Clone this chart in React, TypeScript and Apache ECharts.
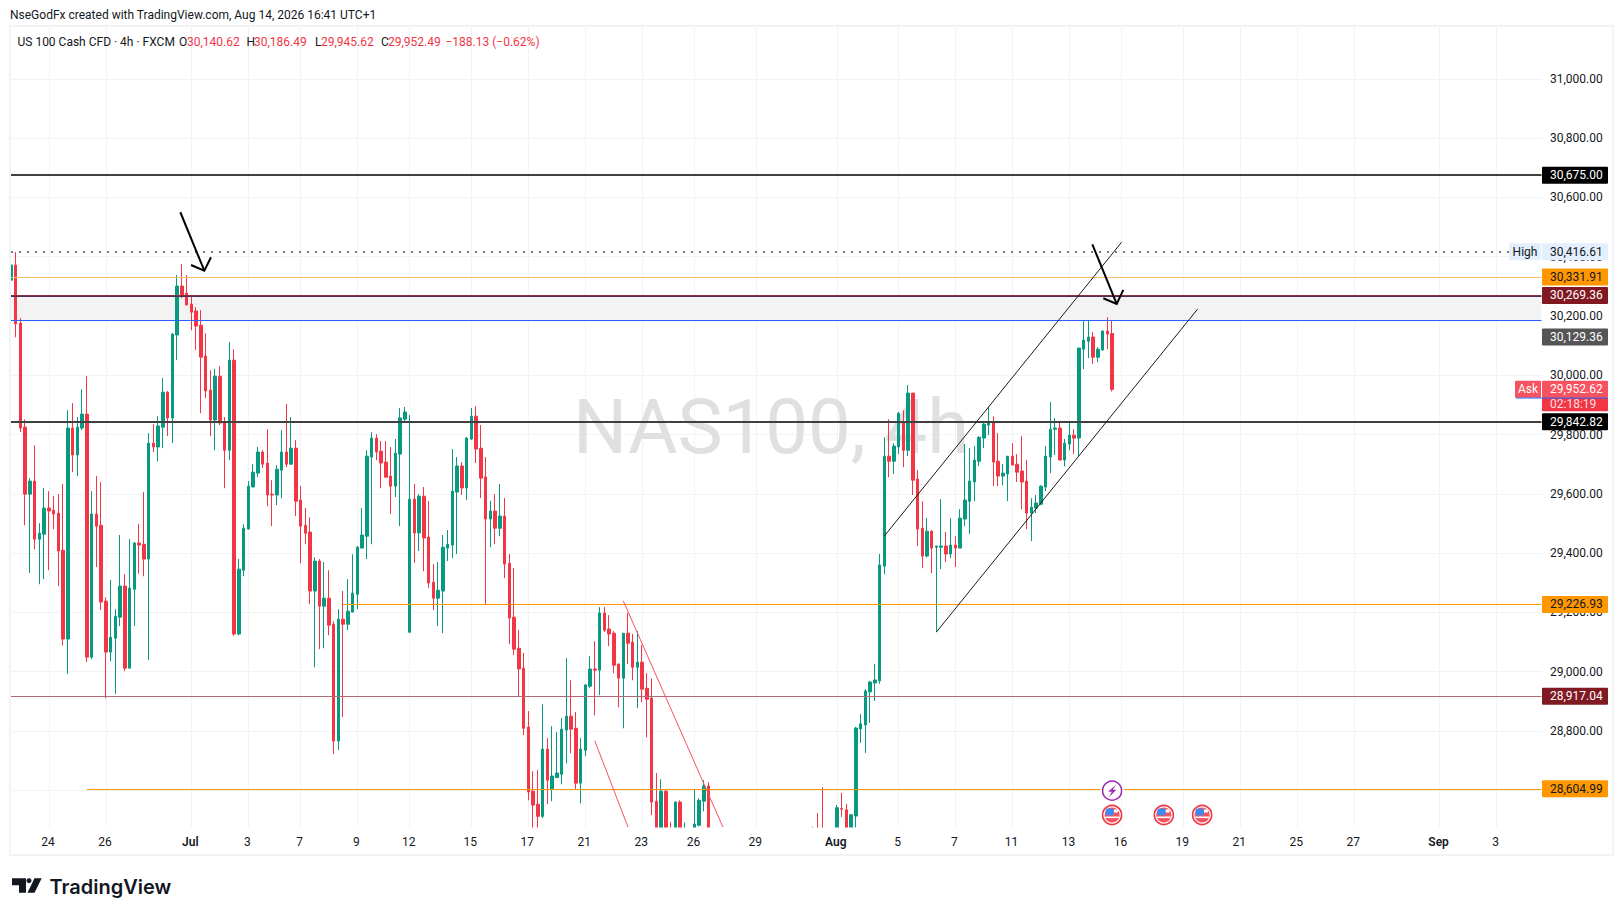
import React, { useEffect, useRef } from "react";
import * as echarts from "echarts";

type Candle = [number, number, number, number] | null; // open, close, low, high

const candlesJune: Candle[] = [
  [30321,30372,30245,30387],[30372,30173,30128,30416],[30176,29822,29809,30193],[29825,29599,29494,29851],
  [29599,29643,29333,29653],[29643,29447,29413,29764],[29447,29467,29295,29501],[29464,29552,29312,29619],
  [29552,29542,29342,29609],[29545,29532,29481,29592],[29535,29407,29289,29599],[29410,29110,29089,29633],
  [29110,29822,28992,29882],[29822,29731,29673,29906],[29731,29825,29660,29859],[29822,29869,29815,29953],
  [29869,29049,29032,29997],[29049,29532,29042,29609],[29532,29491,29353,29660],[29494,29235,29208,29640],
  [29238,29066,28910,29251],[29066,29116,29035,29309],[29113,29187,28925,29211],[29184,29289,29154,29461],
  [29289,29012,29002,29329],[29012,29282,29012,29447],[29278,29434,29154,29437],[29434,29427,29331,29498],
  [29430,29380,29322,29606],[29380,29771,29039,29805],[29771,29758,29741,29835],[29758,29829,29710,29862],
  [29825,29943,29754,29991],[29943,29856,29795,29947],[29856,30139,29771,30142],[30136,30301,30051,30338],
  [30301,30271,30260,30375],[30277,30237,30237,30338],
];

const candlesJuly: Candle[] = [
  [30240,30213,30152,30264],[30217,30166,30085,30230],[30169,30061,29872,30220],[30065,29947,29923,30142],
  [29950,29849,29795,30017],[29849,29997,29747,30021],[29997,29839,29832,30031],[29842,29747,29619,29859],
  [29747,30051,29714,30112],[30051,29127,29120,30088],[29127,29346,29123,29380],[29342,29484,29322,29498],
  [29481,29626,29481,29643],[29623,29673,29623,29700],[29670,29741,29656,29758],[29741,29700,29687,29747],
  [29704,29596,29558,29818],[29599,29596,29491,29646],[29596,29683,29562,29697],[29680,29741,29585,29815],
  [29741,29700,29690,29903],[29700,29754,29700,29859],[29754,29575,29525,29781],[29579,29491,29366,29626],
  [29494,29467,29430,29552],[29471,29272,29228,29521],[29272,29373,29015,29386],[29373,29221,29076,29380],
  [29221,29248,29079,29370],[29248,29157,29123,29342],[29160,28766,28722,29170],[28766,29177,28736,29211],
  [29177,29160,28847,29272],[29160,29204,29140,29312],[29201,29265,29201,29396],[29261,29420,29211,29424],
  [29417,29461,29417,29552],[29457,29727,29380,29747],[29724,29788,29430,29808],[29788,29741,29714,29801],
  [29744,29704,29619,29778],[29707,29656,29656,29778],[29660,29626,29532,29758],[29626,29737,29589,29785],
  [29734,29856,29491,29889],[29852,29876,29839,29893],[29133,29582,29133,29866],
  [29582,29468,29367,29633],[29468,29592,29407,29599],[29592,29451,29339,29623],[29454,29299,29283,29576],
  [29302,29248,29208,29363],[29248,29275,29154,29370],[29272,29420,29130,29461],[29417,29430,29373,29478],
  [29427,29609,29383,29751],[29606,29694,29397,29724],[29694,29620,29596,29707],[29620,29788,29579,29792],
  [29785,29862,29781,29890],[29862,29751,29704,29896],[29754,29653,29586,29832],[29657,29515,29228,29724],
  [29515,29542,29420,29576],[29542,29484,29430,29599],[29484,29525,29457,29633],[29525,29363,29316,29586],
  [29366,29181,29093,29397],[29184,29076,29056,29350],[29079,29009,28914,29140],[29012,28809,28786,29063],
  [28813,28594,28566,28867],[28597,28550,28470,28664],[28553,28512,28470,28668],[28512,28739,28506,28890],
  [28739,28634,28553,28776],[28604,28648,28563,28816],[28643,28658,28641,28796],[28654,28806,28620,28843],
  [28803,28850,28691,29046],[28850,28806,28725,28971],[28809,28624,28604,28864],[28624,28739,28556,28776],
  [28735,28955,28715,28958],[28951,29009,28944,29052],[29009,29005,28853,29103],[29005,29198,28921,29218],
  [29198,29140,29134,29218],[29144,29127,29086,29191],[29130,29022,28995,29137],[29026,28978,28880,29026],
  [28978,29130,28809,29130],[29130,29096,29026,29198],[29100,29015,28971,29127],[29015,29032,28877,29137],
  [29032,28941,28897,29090],[28944,28907,28779,28995],[28911,28560,28516,28978],[28563,28420,28390,28658],
  [28420,28597,28400,28637],[28597,28420,28400,28600],[28450,28410,28390,28492],[28400,28560,28380,28563],
  [28560,28400,28380,28566],[28400,28450,28380,28492],null,[28400,28486,28380,28604],
  [28482,28566,28478,28573],[28563,28614,28529,28634],[28614,28420,28400,28627],
  null,null,null,null,null,null,null,null,null,null,null,null,null,null,null,null,null,null,null,null,null,
  [28380,28410,28370,28477],[28420,28380,28360,28523],[28430,28390,28370,28611],null,null,
];

const candlesAug: Candle[] = [
  [28400,28541,28380,28550],[28538,28536,28510,28591],[28534,28400,28380,28554],[28400,28517,28380,28520],
  [28513,28810,28470,28814],[28807,28824,28760,28857],[28820,28935,28726,28942],[28932,28965,28827,28969],
  [28962,28972,28901,29026],[28969,29360,28959,29397],[29356,29727,29329,29791],[29727,29710,29656,29852],
  [29710,29761,29667,29771],[29758,29872,29734,29876],[29842,29747,29690,29882],[29747,29940,29727,29967],
  [29940,29646,29596,29940],[29650,29481,29424,29680],[29484,29390,29349,29575],[29390,29474,29386,29518],
  [29474,29417,29332,29477],[29420,29424,29133,29424],[29420,29424,29346,29582],[29424,29397,29370,29471],
  [29397,29427,29383,29518],[29427,29417,29353,29457],[29417,29518,29417,29548],[29515,29579,29491,29768],
  [29575,29643,29464,29754],[29640,29714,29575,29761],[29710,29791,29693,29795],[29788,29835,29754,29842],
  [29832,29842,29798,29893],[29842,29707,29626,29862],[29710,29660,29626,29805],[29660,29670,29629,29700],
  [29667,29727,29575,29727],[29727,29697,29697,29771],[29700,29673,29640,29734],[29677,29640,29548,29795],
  [29643,29535,29481,29714],[29535,29555,29440,29585],[29552,29569,29535,29596],[29565,29626,29562,29629],
  [29623,29727,29609,29761],[29724,29818,29670,29910],[29818,29822,29731,29856],[29822,29714,29714,29845],
  [29714,29771,29693,29785],[29768,29798,29747,29839],[29798,29788,29734,29818],[29788,30092,29727,30092],
  [30088,30119,30021,30186],[30115,30129,30058,30186],[30129,30061,30038,30146],[30061,30088,30044,30095],
  [30085,30149,30085,30152],[30149,30139,30088,30196],[30140.62,29952.49,29945.62,30186.49],
];

const BAR_SLOTS = 324;
const timeTickIndex = [8,20,38,50,61,73,84,97,109,121,133,144,157,174,187,199,211,223,234,247,259,271,283,301,313];
const timeTickLabels = ["24","26","Jul","3","7","9","12","15","17","21","23","26","29","Aug","5","7","11","13","16","19","21","25","27","Sep","3"];
const monthLabels = ["Jul","Aug","Sep"];
const priceTicks = [28600,28800,29000,29200,29400,29600,29800,30000,30200,30400,30600,30800,31000];

const levelBlack = [30675, 29842.82];
const levelHigh = 30416.61;
const levelLightOrange = 30331.91;
const zoneTop = 30269.36;
const zoneBottom = 30186.49;
const levelOrangeA = 29226.93;
const levelOrangeAStart = 70;
const levelOrangeB = 28604.99;
const levelOrangeBStart = 16;
const levelMaroon = 28917.04;

// trend lines: [index, price, index, price]
const channelLines = [[184,29457.5,234,30449],[195,29134,250,30223]];
const fallingLines = [[129,29239,150,28476],[123,28767,130,28476]];
// arrows: shaft start, tip, head ends (index, price)
const arrows = [
  [[35.68,30550],[40.73,30353],[37.93,30372],[42.14,30398]],
  [[227.83,30442],[232.97,30240.6],[230.15,30260],[234.36,30288]],
];

const priceTags: [string, number, string, string][] = [
  ["30,675.00",30675,"#000000","#ffffff"],
  ["30,416.61",30416.61,"#e3effd","#131722"],
  ["30,331.91",30331.91,"#ff9800","#131722"],
  ["30,269.36",30269.36,"#801922","#ffffff"],
  ["30,129.36",30129.36,"#555555","#ffffff"],
  ["29,842.82",29842.82,"#000000","#ffffff"],
  ["29,226.93",29226.93,"#ff9800","#131722"],
  ["28,917.04",28917.04,"#801922","#ffffff"],
  ["28,604.99",28604.99,"#ff9800","#131722"],
];
const askPrice = 29952.62;
const askText = "29,952.62";
const countdown = "02:18:19";

const headerLine = "NseGodFx created with TradingView.com, Aug 14, 2026 16:41 UTC+1";
const legendParts: [string, number, string][] = [
  ["US 100 Cash CFD · 4h · FXCM",17.5,"#131722"],
  ["O",179,"#131722"],["30,140.62",187,"#f23645"],
  ["H",246.5,"#131722"],["30,186.49",254,"#f23645"],
  ["L",315,"#131722"],["29,945.62",321,"#f23645"],
  ["C",381,"#131722"],["29,952.49",388,"#f23645"],
  ["−188.13 (−0.62%)",445.5,"#f23645"],
];
const flagEventIndex = [232, 242.9, 250.97];
const boltEventIndex = 232;

const FONT = "Roboto, sans-serif";
const GRID_COLOR = "#f2f3f5";

function hline(y: number, color: string, width = 1, start = 0, type: any = "solid") {
  return [
    { coord: [start, y], lineStyle: { color, width, type, opacity: 1 } },
    { coord: [BAR_SLOTS - 1, y] },
  ];
}
function seg(l: number[], color: string, width = 1) {
  return [
    { coord: [l[0], l[1]], lineStyle: { color, width, type: "solid", opacity: 1 } },
    { coord: [l[2], l[3]] },
  ];
}

export default function App() {
  const ref = useRef<HTMLDivElement>(null);
  useEffect(() => {
    if (!ref.current) return;
    const chart = echarts.init(ref.current, undefined, { renderer: "svg" });
    const all = [...candlesJune, ...candlesJuly, ...candlesAug];
    const data: any[] = [];
    for (let i = 0; i < BAR_SLOTS; i++) {
      const c = all[i];
      data.push(c ? c : ["-", "-", "-", "-"]);
    }
    const categories = data.map((_, i) => String(i));
    const tickSet = new Set(timeTickIndex);
    chart.setOption({
      animation: false,
      backgroundColor: "#ffffff",
      grid: { left: 11, top: 27, width: 1533, height: 800, containLabel: false },
      xAxis: [
        {
          type: "category",
          data: categories,
          boundaryGap: false,
          axisLine: { show: false },
          axisTick: { show: false },
          axisLabel: { show: false },
          splitLine: {
            show: true,
            interval: (i: number) => tickSet.has(i),
            lineStyle: { color: GRID_COLOR, width: 1 },
          },
        },
        {
          type: "category",
          data: categories,
          position: "bottom",
          boundaryGap: false,
          z: 60,
          axisLine: { show: false },
          axisTick: { show: false },
          splitLine: { show: false },
          axisLabel: {
            interval: (i: number) => tickSet.has(i),
            margin: 9,
            padding: [0, 2, 0, 0],
            fontFamily: FONT,
            fontSize: 12,
            color: "#131722",
            hideOverlap: false,
            formatter: (v: string) => {
              const k = timeTickIndex.indexOf(Number(v));
              if (k < 0) return "";
              const t = timeTickLabels[k];
              return monthLabels.includes(t) ? `{m|${t}}` : t;
            },
            rich: { m: { fontWeight: 600, fontFamily: FONT, fontSize: 12, color: "#131722" } },
          },
        },
      ],
      yAxis: {
        type: "value",
        position: "right",
        min: 28476,
        max: 31175,
        axisLine: { show: false },
        axisTick: { show: false, customValues: priceTicks },
        axisLabel: {
          customValues: priceTicks,
          margin: 6,
          fontFamily: FONT,
          fontSize: 12,
          color: "#131722",
          formatter: (v: number) => v.toLocaleString("en-US", { minimumFractionDigits: 2, maximumFractionDigits: 2 }),
        },
        splitLine: { show: true, lineStyle: { color: GRID_COLOR, width: 1 } },
      },
      series: [
        {
          type: "candlestick",
          xAxisIndex: 0,
          data,
          barWidth: 3,
          clip: true,
          itemStyle: {
            color: "#089981",
            color0: "#f23645",
            borderColor: "#089981",
            borderColor0: "#f23645",
            borderWidth: 1,
          },
          markArea: {
            silent: true,
            itemStyle: { color: "#f3f3f3" },
            data: [[{ coord: [0, zoneTop] }, { coord: [BAR_SLOTS - 1, zoneBottom] }]],
          },
          markLine: {
            silent: true,
            symbol: "none",
            label: { show: false },
            animation: false,
            data: [
              hline(levelBlack[0], "#404040", 2),
              hline(levelBlack[1], "#404040", 2),
              hline(levelHigh, "#787b86", 2, 0, [2, 6]),
              hline(levelLightOrange, "#f7bd6d", 1),
              hline(zoneTop - 1.9, "#552a55", 1),
              hline(zoneTop + 1.5, "#8a3040", 1),
              hline(zoneBottom, "#2962ff", 1),
              hline(levelOrangeA, "#ff9800", 1, levelOrangeAStart),
              hline(levelOrangeB, "#ff9800", 1, levelOrangeBStart),
              hline(levelMaroon, "#b06a75", 1),
              ...channelLines.map((l) => seg(l, "#1a1a1a", 1)),
              ...fallingLines.map((l) => seg(l, "#f7525f", 1)),
            ],
          },
        },
      ],
    });

    const px = (idx: number, price: number): number[] => {
      const a = Math.floor(idx);
      const p0 = chart.convertToPixel({ xAxisIndex: 0, yAxisIndex: 0 } as any, [a, price]) as number[];
      const p1 = chart.convertToPixel({ xAxisIndex: 0, yAxisIndex: 0 } as any, [a + 1, price]) as number[];
      return [p0[0] + (p1[0] - p0[0]) * (idx - a), p0[1]];
    };
    const yOf = (p: number) => px(0, p)[1];

    const g: any[] = [];
    // watermark under the candles
    g.push({
      type: "text", z: 0, silent: true, x: 573, y: 427,
      style: { text: "NAS100, 4h", font: `76px ${FONT}`, fill: "#e0e0e0", verticalAlign: "middle" },
    });
    // covers: what falls below the pane, right edge, frame
    g.push({ type: "rect", z: 50, silent: true, shape: { x: 9, y: 827.5, width: 1540, height: 47 }, style: { fill: "#ffffff" } });
    g.push({ type: "rect", z: 50, silent: true, shape: { x: 1541.5, y: 27, width: 7, height: 800 }, style: { fill: "#ffffff" } });
    g.push({ type: "rect", z: 51, silent: true, shape: { x: 10, y: 26, width: 1603, height: 829 }, style: { fill: "none", stroke: "#f2f3f5", lineWidth: 2 } });
    // header
    g.push({ type: "text", z: 100, silent: true, x: 10, y: 15, style: { text: headerLine, font: `12px ${FONT}`, fill: "#131722", verticalAlign: "middle" } });
    legendParts.forEach(([t, x, c]) =>
      g.push({ type: "text", z: 100, silent: true, x, y: 42, style: { text: t, font: `12px ${FONT}`, fill: c, verticalAlign: "middle" } })
    );
    // arrows
    arrows.forEach(([a, b, c, d]) => {
      const A = px(a[0], a[1]), B = px(b[0], b[1]), C = px(c[0], c[1]), D = px(d[0], d[1]);
      g.push({ type: "line", z: 60, silent: true, shape: { x1: A[0], y1: A[1], x2: B[0], y2: B[1] }, style: { stroke: "#000", lineWidth: 2 } });
      g.push({ type: "polyline", z: 60, silent: true, shape: { points: [C, B, D] }, style: { stroke: "#000", lineWidth: 2, fill: "none" } });
    });
    // price tags
    const tag = (t: string, y: number, bg: string, fg: string) => {
      g.push({ type: "rect", z: 100, silent: true, shape: { x: 1542, y: y - 8.5, width: 66, height: 17, r: 1 }, style: { fill: bg } });
      g.push({ type: "text", z: 101, silent: true, x: 1550, y, style: { text: t, font: `12px ${FONT}`, fill: fg, verticalAlign: "middle" } });
    };
    priceTags.forEach(([t, v, bg, fg]) => tag(t, yOf(v), bg, fg));
    // High tag
    const yHigh = yOf(levelHigh);
    g.push({ type: "rect", z: 100, silent: true, shape: { x: 1509, y: yHigh - 8.5, width: 32, height: 17, r: 1 }, style: { fill: "#e3effd" } });
    g.push({ type: "text", z: 101, silent: true, x: 1525, y: yHigh, style: { text: "High", font: `12px ${FONT}`, fill: "#131722", align: "center", verticalAlign: "middle" } });
    // Ask + countdown
    const yAsk = yOf(askPrice);
    g.push({ type: "rect", z: 100, silent: true, shape: { x: 1542, y: yAsk + 8, width: 66, height: 14, r: 1 }, style: { fill: "#f23645" } });
    g.push({ type: "text", z: 101, silent: true, x: 1550, y: yAsk + 14.5, style: { text: countdown, font: `12px ${FONT}`, fill: "#ffffff", verticalAlign: "middle", opacity: 0.85 } });
    tag(askText, yAsk, "#f7525f", "#ffffff");
    g.push({ type: "rect", z: 100, silent: true, shape: { x: 1515, y: yAsk - 8.5, width: 26, height: 17, r: 1 }, style: { fill: "#f7525f" } });
    g.push({ type: "text", z: 101, silent: true, x: 1528, y: yAsk, style: { text: "Ask", font: `12px ${FONT}`, fill: "#ffffff", align: "center", verticalAlign: "middle" } });
    g.push({ type: "rect", z: 102, silent: true, shape: { x: 1516, y: yAsk + 8.3, width: 92, height: 1 }, style: { fill: "#2962ff" } });
    // events
    const boltX = px(boltEventIndex, 30000)[0];
    const boltY = 790.7;
    g.push({ type: "circle", z: 61, silent: true, shape: { cx: boltX, cy: boltY, r: 12 }, style: { fill: "#fff" } });
    g.push({ type: "circle", z: 62, silent: true, shape: { cx: boltX, cy: boltY, r: 9.5 }, style: { fill: "#fff", stroke: "#9c27b0", lineWidth: 1.5 } });
    g.push({
      type: "polygon", z: 63, silent: true,
      shape: { points: [[4.2,-6.2],[-4,1],[-0.3,1],[-3,6.2],[4.2,-1],[0.6,-1]].map(([a, b]) => [boltX + a, boltY + b]) },
      style: { fill: "#9c27b0" },
    });
    flagEventIndex.forEach((idx) => {
      const cx = px(idx, 30000)[0];
      const cy = 815;
      g.push({ type: "circle", z: 61, silent: true, shape: { cx, cy, r: 9.5 }, style: { fill: "#fff", stroke: "#f23645", lineWidth: 1.6 } });
      g.push({ type: "circle", z: 62, silent: true, shape: { cx, cy, r: 7.5 }, style: { fill: "#f7525f" } });
      g.push({ type: "rect", z: 63, silent: true, shape: { x: cx - 6.8, y: cy + 1.5, width: 13.6, height: 1.6 }, style: { fill: "#fff" } });
      g.push({ type: "rect", z: 63, silent: true, shape: { x: cx + 1.7, y: cy - 5.5, width: 4, height: 3 }, style: { fill: "#fff" } });
      g.push({ type: "rect", z: 64, silent: true, shape: { x: cx - 6.4, y: cy - 6.4, width: 8.1, height: 6.8, r: 2 }, style: { fill: "#3d8bf0" } });
    });
    // logo
    g.push({ type: "polygon", z: 100, silent: true, shape: { points: [[12,878.3],[26,878.3],[26,892.7],[19,892.7],[19,885.3],[12,885.3]] }, style: { fill: "#131722" } });
    g.push({ type: "circle", z: 100, silent: true, shape: { cx: 29, cy: 880.7, r: 2.5 }, style: { fill: "#131722" } });
    g.push({ type: "polygon", z: 100, silent: true, shape: { points: [[34.5,878.3],[41.7,878.3],[34.5,892.7],[27.5,892.7]] }, style: { fill: "#131722" } });
    g.push({ type: "text", z: 100, silent: true, x: 49.5, y: 886.5, style: { text: "TradingView", font: `600 20px Inter, ${FONT}`, fill: "#131722", verticalAlign: "middle" } });

    chart.setOption({ graphic: { elements: g } });
    return () => chart.dispose();
  }, []);
  return <div ref={ref} style={{ position: "fixed", left: 0, top: 0, width: 1623, height: 916 }} />;
}
